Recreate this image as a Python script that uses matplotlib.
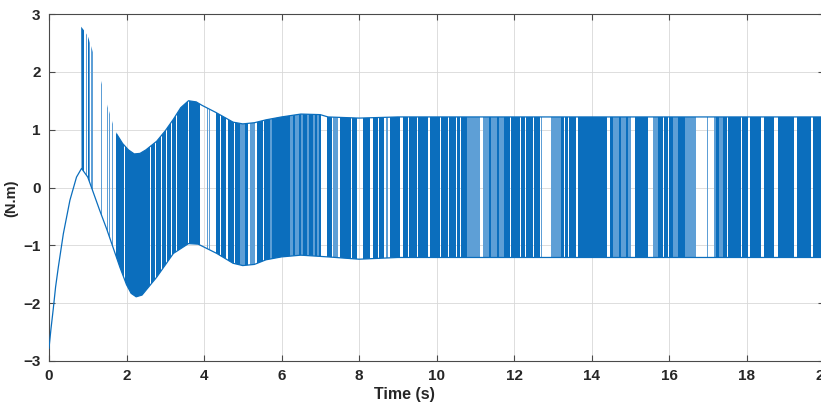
import matplotlib
matplotlib.use("Agg")
import matplotlib.pyplot as plt
import numpy as np
from matplotlib.path import Path

# --- signal envelope ---
# lower trace (includes the initial rise before switching starts)
lo_t = [0.0, 0.05, 0.11, 0.17, 0.24, 0.37, 0.54, 0.71, 0.84, 1.0, 1.14, 1.3, 1.49,
        1.66, 1.83, 2.0, 2.12, 2.25, 2.4, 2.78, 3.21, 3.6, 3.85, 4.33, 4.75, 5.0,
        5.3, 5.6, 6.0, 6.5, 7.2, 8.0, 9.0, 20.0]
lo_y = [-2.78, -2.45, -2.1, -1.72, -1.38, -0.8, -0.22, 0.18, 0.33, 0.18, -0.08,
        -0.38, -0.72, -1.05, -1.38, -1.68, -1.83, -1.89, -1.86, -1.55, -1.14,
        -0.97, -0.98, -1.14, -1.31, -1.35, -1.33, -1.25, -1.2, -1.17, -1.2, -1.24,
        -1.21, -1.21]

# upper switching level
hi_t = [0.83, 0.9, 1.0, 1.13, 1.36, 1.51, 1.56, 1.64, 1.75, 1.9, 2.05, 2.2, 2.35,
        2.5, 2.78, 3.0, 3.21, 3.4, 3.6, 3.8, 3.95, 4.3, 4.75, 5.0, 5.3, 5.6, 6.0,
        6.5, 7.0, 7.2, 8.0, 9.0, 20.0]
hi_y = [2.78, 2.72, 2.62, 2.35, 1.8, 1.4, 1.3, 1.12, 0.92, 0.76, 0.65, 0.58, 0.59,
        0.65, 0.8, 0.98, 1.18, 1.38, 1.5, 1.48, 1.42, 1.3, 1.13, 1.1, 1.12, 1.17,
        1.22, 1.27, 1.26, 1.22, 1.2, 1.22, 1.22]

# time spans where switching is dense (solid blue)
dense = [(0.83, 0.9), (1.0, 1.02), (1.73, 1.94), (1.96, 2.31), (2.33, 2.47),
         (2.49, 2.61), (2.63, 2.73), (2.75, 2.9), (2.92, 3.02), (3.04, 3.15),
         (3.17, 3.29), (3.31, 3.59), (3.61, 3.9), (4.31, 4.42), (4.45, 4.58),
         (4.61, 4.78), (4.8, 4.93), (5.06, 5.14), (5.36, 5.52), (5.54, 5.7),
         (5.76, 5.95), (5.97, 6.22), (6.3, 6.36), (6.45, 6.5), (6.56, 6.66),
         (6.72, 6.8), (6.86, 6.92), (6.98, 7.03), (7.17, 7.3), (7.5, 7.6),
         (7.62, 7.8), (7.82, 7.94), (8.1, 8.28), (8.37, 8.5), (8.52, 8.65),
         (8.8, 9.06), (9.14, 9.27), (9.29, 9.49), (9.52, 9.78), (9.83, 10.1),
         (10.12, 10.3), (10.32, 10.5), (10.52, 10.6), (10.62, 10.78),
         (11.35, 11.4), (11.55, 11.6), (11.73, 11.9), (11.92, 12.15),
         (12.17, 12.28), (12.3, 12.5), (12.52, 12.67), (13.21, 13.3),
         (13.32, 13.4), (13.42, 13.6), (13.66, 14.4), (14.47, 14.55),
         (14.7, 14.76), (14.88, 14.94), (15.12, 15.47), (15.71, 15.84),
         (15.86, 15.97), (15.99, 16.1), (16.23, 16.4), (17.22, 17.3),
         (17.39, 17.5), (17.52, 17.86), (17.89, 18.05), (18.1, 18.37),
         (18.44, 18.7), (18.82, 19.23), (19.3, 19.66), (19.72, 20.0)]

# time spans with sparse, thin switching lines (lighter blue)
sparse = [(0.92, 0.94), (0.96, 0.98), (1.04, 1.06), (1.08, 1.1), (1.12, 1.14),
          (1.2, 1.22), (1.35, 1.37), (1.5, 1.52), (1.55, 1.57), (1.63, 1.65),
          (4.07, 4.1), (4.13, 4.16), (4.94, 5.05), (5.18, 5.32), (5.7, 5.76),
          (6.22, 6.3), (6.36, 6.45), (6.5, 6.56), (6.66, 6.72), (6.8, 6.86),
          (6.92, 6.98), (7.32, 7.45), (8.7, 8.75), (10.78, 11.12), (11.2, 11.35),
          (11.4, 11.55), (11.6, 11.73), (12.69, 12.71), (12.95, 13.2),
          (14.55, 14.7), (14.76, 14.88), (14.94, 15.02), (15.58, 15.71),
          (16.1, 16.23), (16.4, 16.7), (16.98, 17.0), (17.17, 17.22),
          (17.3, 17.39)]

BLUE = "#0b6ebd"
LIGHT = "#5e9fd6"


def spans_path(spans):
    verts, codes = [], []
    for a, b in spans:
        verts += [(a, -5), (b, -5), (b, 5), (a, 5), (a, -5)]
        codes += [Path.MOVETO, Path.LINETO, Path.LINETO, Path.LINETO, Path.CLOSEPOLY]
    return Path(verts, codes)


fig = plt.figure(figsize=(8.21, 4.05), dpi=100)
ax = fig.add_axes([49 / 821, 44 / 405, 775 / 821, 347 / 405])

# band between the two switching levels
lo_arr_t = np.array(lo_t)
lo_arr_y = np.array(lo_y)
keep = lo_arr_t >= 0.84
band_x = np.r_[hi_t, lo_arr_t[keep][::-1]]
band_y = np.r_[hi_y, lo_arr_y[keep][::-1]]

light_band = ax.fill(band_x, band_y, color=LIGHT, lw=0, zorder=2)[0]
light_band.set_clip_path(spans_path(sparse), ax.transData)
dark_band = ax.fill(band_x, band_y, color=BLUE, lw=0, zorder=3)[0]
dark_band.set_clip_path(spans_path(dense), ax.transData)

# the switching levels themselves
ax.plot(lo_t, lo_y, color=BLUE, lw=0.9, zorder=4)
hi_arr_t = np.array(hi_t)
hi_mask = hi_arr_t >= 1.73
ax.plot(hi_arr_t[hi_mask], np.array(hi_y)[hi_mask], color=BLUE, lw=0.9, zorder=4)

ax.set_xlim(0, 20)
ax.set_ylim(-3, 3)
ax.set_xticks(np.arange(0, 21, 2))
ax.set_yticks(np.arange(-3, 4, 1))
ax.grid(True, color="#d8d8d8", lw=0.6, zorder=0)
ax.set_axisbelow(True)

for s in ax.spines.values():
    s.set_color("#4a4a4a")
    s.set_linewidth(0.8)
ax.tick_params(direction="in", length=4, width=0.8, top=True, right=True,
               color="#4a4a4a", labelcolor="#262626", pad=6)
for lab in ax.get_xticklabels() + ax.get_yticklabels():
    lab.set_fontfamily("Liberation Sans")
    lab.set_fontweight("bold")
    lab.set_fontsize(11)

ax.set_xlabel("Time (s)", fontfamily="Liberation Sans", fontweight="bold",
              fontsize=11.5, color="#262626")
ax.set_ylabel("(N.m)", fontfamily="Liberation Sans", fontweight="bold",
              fontsize=10.5, color="#262626")
ax.xaxis.set_label_coords(0.459, -0.075)
ax.yaxis.set_label_coords(-0.04, 0.47)

fig.savefig("out.png", dpi=100)
